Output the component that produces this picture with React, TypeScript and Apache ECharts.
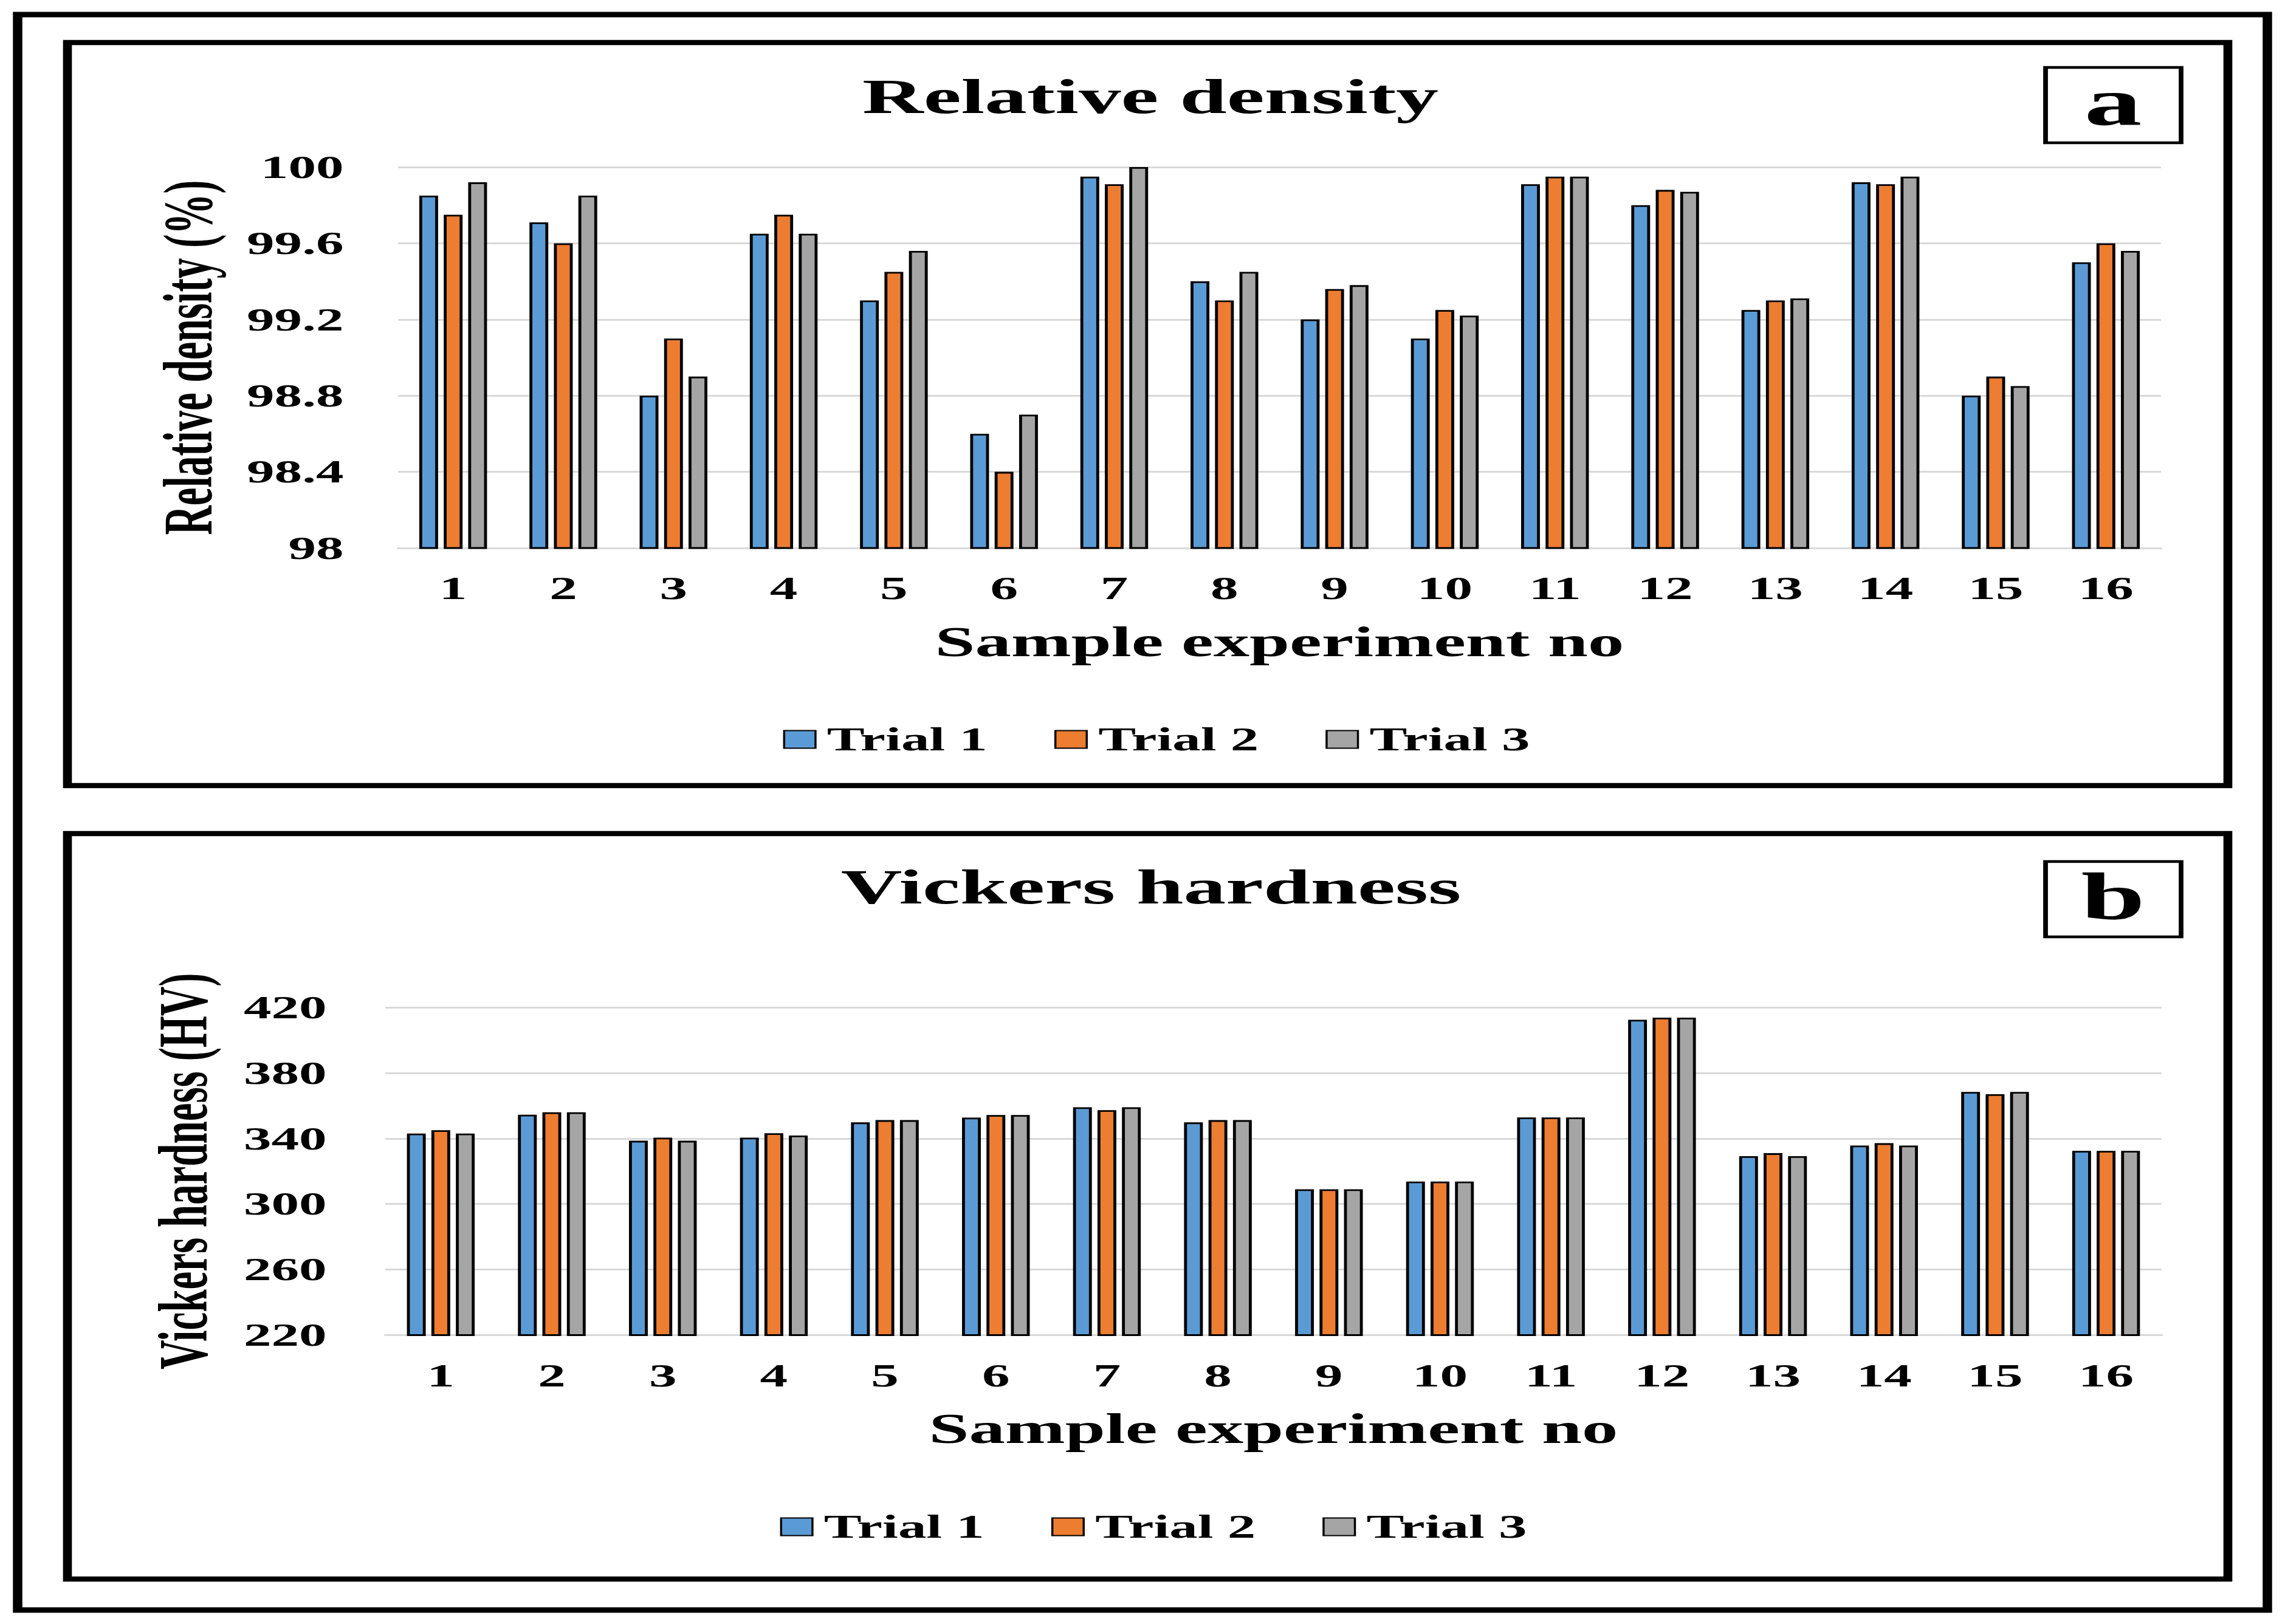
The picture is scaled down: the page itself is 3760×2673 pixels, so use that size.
import React, { useEffect, useRef } from "react";
import * as echarts from "echarts";

// Horizontal stretch of the original figure (text and strokes are wider than tall)
const K = 1.72;
const W = 3760;
const H = 2673;
const W0 = W / K;
const sx = (x: number) => x / K;

const FONT = '"Liberation Serif", "Times New Roman", serif';

const categories = ["1", "2", "3", "4", "5", "6", "7", "8", "9", "10", "11", "12", "13", "14", "15", "16"];
const trialNames = ["Trial 1", "Trial 2", "Trial 3"];
const trialColors = ["#5B9BD5", "#ED7D31", "#A5A5A5"];

const densityTrial1 = [99.85, 99.71, 98.8, 99.65, 99.3, 98.6, 99.95, 99.4, 99.2, 99.1, 99.91, 99.8, 99.25, 99.92, 98.8, 99.5];
const densityTrial2 = [99.75, 99.6, 99.1, 99.75, 99.45, 98.4, 99.91, 99.3, 99.36, 99.25, 99.95, 99.88, 99.3, 99.91, 98.9, 99.6];
const densityTrial3 = [99.92, 99.85, 98.9, 99.65, 99.56, 98.7, 100, 99.45, 99.38, 99.22, 99.95, 99.87, 99.31, 99.95, 98.85, 99.56];

const hardnessTrial1 = [343, 354.5, 338.6, 340.5, 349.8, 352.7, 359, 349.8, 309, 313.7, 352.8, 412.4, 329.2, 335.7, 368.4, 332.4];
const hardnessTrial2 = [345, 356, 340.5, 343.2, 351.2, 354.3, 357.3, 351.2, 309, 313.7, 352.8, 413.7, 331, 337.1, 367, 332.4];
const hardnessTrial3 = [343, 356, 338.6, 341.8, 351.2, 354.3, 359, 351.2, 309, 313.7, 352.8, 413.7, 329.2, 335.7, 368.4, 332.4];

const densitySeries = [densityTrial1, densityTrial2, densityTrial3];
const hardnessSeries = [hardnessTrial1, hardnessTrial2, hardnessTrial3];

const boldText = (size: number) => ({
  fontFamily: FONT,
  fontWeight: "bold" as const,
  fontSize: size,
  color: "#000",
});

const gridLine = { color: "#D9D9D9", width: 3 };

function makeXAxis(gridIndex: number) {
  return {
    type: "category" as const,
    gridIndex,
    data: categories,
    axisLine: { lineStyle: gridLine },
    axisTick: { show: false },
    axisLabel: { ...boldText(53), margin: 40 },
    name: "Sample experiment no",
    nameLocation: "middle" as const,
    nameGap: 120,
    nameTextStyle: boldText(69),
  };
}

function makeBars(data: number[][], axisIndex: number) {
  return data.map((values, i) => ({
    type: "bar" as const,
    name: trialNames[i],
    xAxisIndex: axisIndex,
    yAxisIndex: axisIndex,
    data: values,
    barWidth: 18,
    barGap: "30%",
    itemStyle: { color: trialColors[i], borderColor: "#000", borderWidth: 2.8 },
  }));
}

function makeLegend(left: number, top: number) {
  return {
    data: trialNames,
    left: sx(left),
    top,
    icon: "rect",
    itemWidth: 30,
    itemHeight: 29,
    itemGap: 64,
    textStyle: { ...boldText(54), padding: [0, 0, 0, 6] },
  };
}

function textEl(text: string, x: number, y: number, size: number) {
  return {
    type: "text" as const,
    x,
    y,
    style: {
      text,
      fontFamily: FONT,
      fontWeight: "bold",
      fontSize: size,
      fill: "#000",
      align: "center",
      verticalAlign: "middle",
      textAlign: "center",
      textVerticalAlign: "middle",
    },
    z: 10,
  };
}

function rectEl(x1: number, y1: number, x2: number, y2: number, lw: number) {
  return {
    type: "rect" as const,
    shape: { x: sx(x1), y: y1, width: sx(x2 - x1), height: y2 - y1 },
    style: { fill: "none", stroke: "#000", lineWidth: lw },
    z: 10,
  };
}

const option = {
  animation: false,
  backgroundColor: "#fff",
  textStyle: { fontFamily: FONT },
  grid: [
    { left: sx(655), right: sx(W - 3556), top: 275, bottom: H - 902 },
    { left: sx(634), right: sx(W - 3557), top: 1658, bottom: H - 2197.5 },
  ],
  xAxis: [makeXAxis(0), makeXAxis(1)],
  yAxis: [
    {
      type: "value",
      gridIndex: 0,
      min: 98,
      max: 100,
      interval: 0.4,
      axisLine: { show: false },
      axisTick: { show: false },
      splitLine: { lineStyle: gridLine },
      axisLabel: { ...boldText(53), margin: 52 },
      name: "Relative density (%)",
      nameLocation: "middle",
      nameGap: 168,
      nameTextStyle: boldText(67),
    },
    {
      type: "value",
      gridIndex: 1,
      min: 220,
      max: 420,
      interval: 40,
      axisLine: { show: false },
      axisTick: { show: false },
      splitLine: { lineStyle: gridLine },
      axisLabel: { ...boldText(53), margin: 56 },
      name: "Vickers hardness (HV)",
      nameLocation: "middle",
      nameGap: 160,
      nameTextStyle: boldText(67),
    },
  ],
  legend: [makeLegend(1280, 1185), makeLegend(1275, 2481)],
  series: [...makeBars(densitySeries, 0), ...makeBars(hardnessSeries, 1)],
  graphic: [
    rectEl(29, 24, 3731, 2650, 9),
    rectEl(111, 70, 3666, 1293, 8.5),
    rectEl(111, 1372, 3666, 2599, 8.5),
    rectEl(3366, 111, 3589, 235, 4.5),
    rectEl(3366, 1418, 3589, 1542, 4.5),
    textEl("Relative density", sx(1893), 159, 81),
    textEl("Vickers hardness", sx(1894), 1460, 81),
    textEl("a", sx(3477), 168, 110),
    textEl("b", sx(3477), 1476, 110),
  ],
};

export default function App() {
  const ref = useRef<HTMLDivElement>(null);
  useEffect(() => {
    if (!ref.current) return;
    const chart = echarts.init(ref.current, undefined, { renderer: "svg" });
    chart.setOption(option as any);
    return () => chart.dispose();
  }, []);
  return (
    <div
      style={{
        position: "fixed",
        left: 0,
        top: 0,
        width: W,
        height: H,
        overflow: "hidden",
        background: "#fff",
      }}
    >
      <div
        ref={ref}
        style={{
          width: W0,
          height: H,
          transform: `scaleX(${K})`,
          transformOrigin: "0 0",
        }}
      />
    </div>
  );
}
